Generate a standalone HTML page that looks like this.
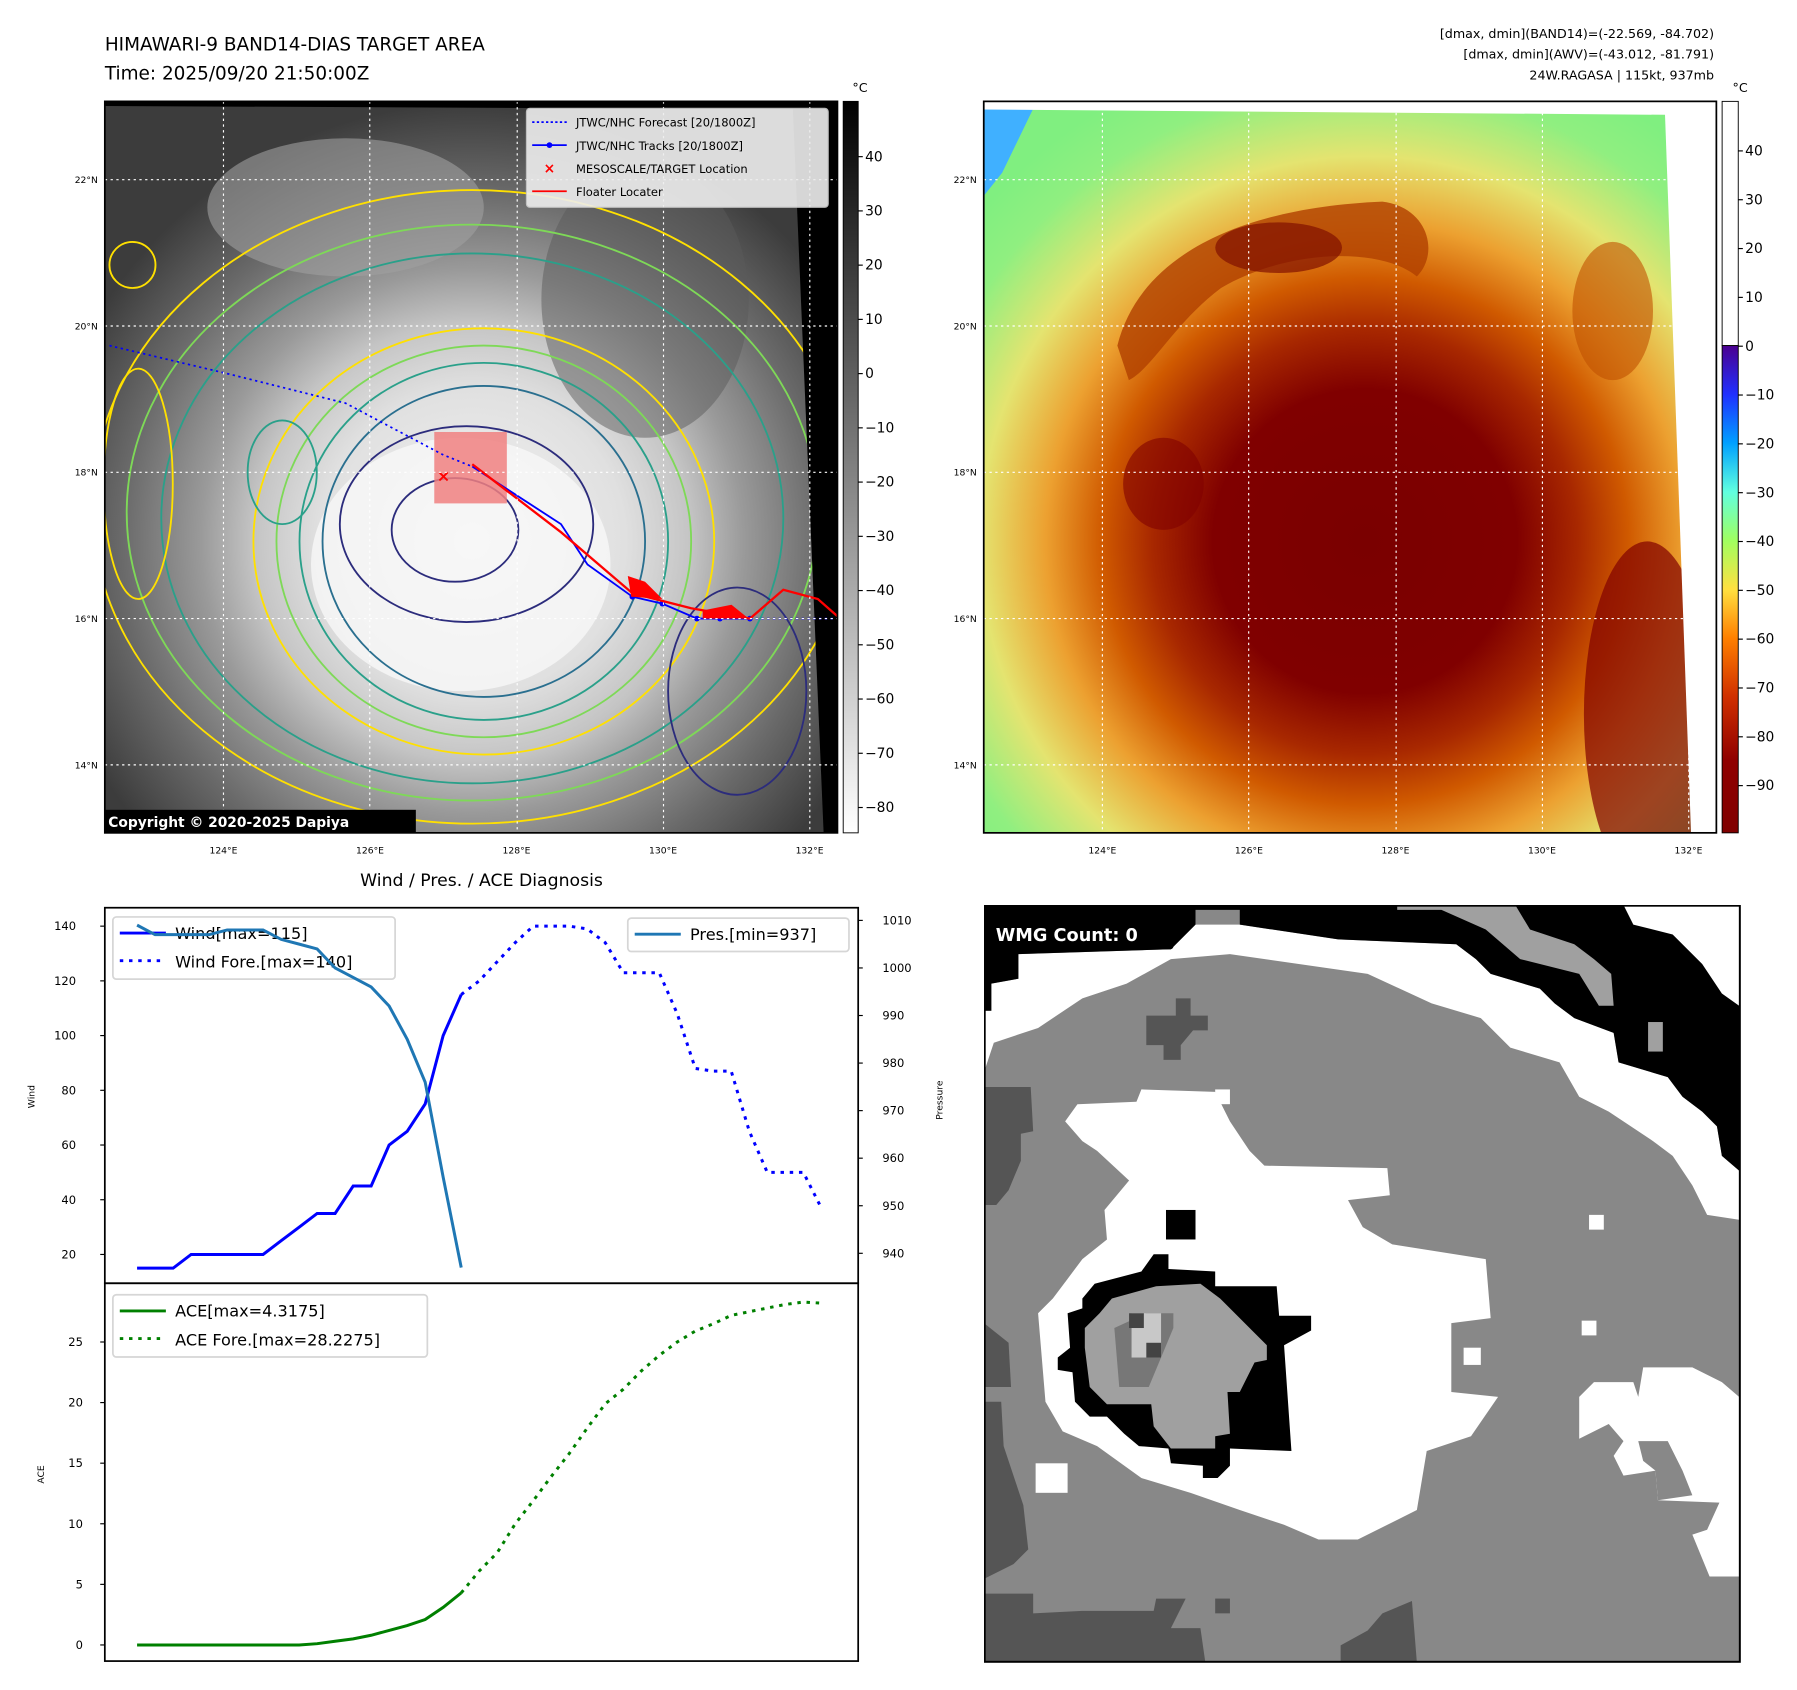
<!DOCTYPE html>
<html><head><meta charset="utf-8"><style>
html,body{margin:0;padding:0;background:#fff;}
svg{display:block;font-family:"DejaVu Sans","Liberation Sans",sans-serif;}
</style></head><body>
<svg id="root" width="1797" height="1690" viewBox="0 0 1560 1467.1" xmlns="http://www.w3.org/2000/svg">
<defs>
<radialGradient id="g1" cx="410" cy="470" r="380" gradientUnits="userSpaceOnUse">
<stop offset="0" stop-color="#f4f4f4"/><stop offset="0.35" stop-color="#e0e0e0"/><stop offset="0.5" stop-color="#c4c4c4"/><stop offset="0.62" stop-color="#9a9a9a"/><stop offset="0.8" stop-color="#6a6a6a"/><stop offset="1" stop-color="#3c3c3c"/>
</radialGradient>
<radialGradient id="g2" cx="1185" cy="470" r="440" gradientUnits="userSpaceOnUse">
<stop offset="0" stop-color="#7a0000"/><stop offset="0.3" stop-color="#800000"/><stop offset="0.42" stop-color="#a82800"/><stop offset="0.52" stop-color="#d05a00"/><stop offset="0.63" stop-color="#eca030"/><stop offset="0.76" stop-color="#e4e470"/><stop offset="0.9" stop-color="#90ef80"/><stop offset="1" stop-color="#80ef80"/>
</radialGradient>
<linearGradient id="cb1" x1="0" y1="0" x2="0" y2="1"><stop offset="0" stop-color="#000"/><stop offset="1" stop-color="#fff"/></linearGradient>
<linearGradient id="cb2" x1="0" y1="0" x2="0" y2="1">
<stop offset="0" stop-color="#4b0090"/><stop offset="0.1" stop-color="#2030ff"/><stop offset="0.2" stop-color="#00a0ff"/><stop offset="0.3" stop-color="#60ffe0"/><stop offset="0.4" stop-color="#a0ff60"/><stop offset="0.5" stop-color="#ffe040"/><stop offset="0.6" stop-color="#ff8000"/><stop offset="0.72" stop-color="#d03000"/><stop offset="0.85" stop-color="#900000"/><stop offset="1" stop-color="#800000"/></linearGradient>
<clipPath id="c1"><rect x="91" y="88" width="636" height="635"/></clipPath>
<clipPath id="c2"><rect x="854" y="88" width="636" height="635"/></clipPath>
</defs>

<!-- Titles -->
<text x="91" y="44" font-size="16">HIMAWARI-9 BAND14-DIAS TARGET AREA</text>
<text x="91" y="69" font-size="16">Time: 2025/09/20 21:50:00Z</text>
<text x="1488" y="33" font-size="11" text-anchor="end">[dmax, dmin](BAND14)=(-22.569, -84.702)</text>
<text x="1488" y="51" font-size="11" text-anchor="end">[dmax, dmin](AWV)=(-43.012, -81.791)</text>
<text x="1488" y="69" font-size="11" text-anchor="end">24W.RAGASA | 115kt, 937mb</text>

<!-- Map 1 -->
<g clip-path="url(#c1)">
<rect x="91" y="88" width="636" height="635" fill="url(#g1)"/>
<ellipse cx="300" cy="180" rx="120" ry="60" fill="#a0a0a0" opacity="0.6"/>
<ellipse cx="560" cy="260" rx="90" ry="120" fill="#5a5a5a" opacity="0.5"/>
<ellipse cx="400" cy="490" rx="130" ry="110" fill="#f8f8f8" opacity="0.8"/>
<g fill="none" stroke-width="1.6">
<ellipse cx="410" cy="440" rx="330" ry="275" stroke="#ffe000"/>
<ellipse cx="410" cy="445" rx="300" ry="250" stroke="#7ed957"/>
<ellipse cx="410" cy="450" rx="270" ry="230" stroke="#2aa08a"/>
<ellipse cx="420" cy="470" rx="200" ry="185" stroke="#ffe000"/>
<ellipse cx="420" cy="470" rx="180" ry="170" stroke="#7ed957"/>
<ellipse cx="420" cy="470" rx="160" ry="155" stroke="#2aa08a"/>
<ellipse cx="420" cy="470" rx="140" ry="135" stroke="#2a6f8f"/>
<ellipse cx="405" cy="455" rx="110" ry="85" stroke="#2c2c7c"/>
<ellipse cx="395" cy="460" rx="55" ry="45" stroke="#2c2c7c"/>
<ellipse cx="245" cy="410" rx="30" ry="45" stroke="#2aa08a"/>
<ellipse cx="640" cy="600" rx="60" ry="90" stroke="#2c2c7c"/>
<ellipse cx="120" cy="420" rx="30" ry="100" stroke="#ffe000"/>
<ellipse cx="115" cy="230" rx="20" ry="20" stroke="#ffe000"/>
</g>
<polygon points="688,88 727,88 727,723 715,723" fill="#000"/>
<polygon points="91,88 727,88 727,95 91,92" fill="#000"/>
<rect x="377" y="375" width="63" height="62" fill="#f08080" opacity="0.85"/>
<polyline points="95,300 200,325 300,350 385,395 410,405" fill="none" stroke="#0000ff" stroke-width="1.5" stroke-dasharray="2,3"/>
<polyline points="651,537 724,537" fill="none" stroke="#0000ff" stroke-width="1.5" stroke-dasharray="2,3"/>
<polyline points="410,405 487,455 510,490 549,518 575,524 605,537 625,537 651,537" fill="none" stroke="#0000ff" stroke-width="1.6"/>
<g fill="#0000ff"><circle cx="549" cy="518" r="2.5"/><circle cx="575" cy="524" r="2.5"/><circle cx="605" cy="537" r="2.5"/><circle cx="625" cy="537" r="2.5"/><circle cx="651" cy="537" r="2.5"/></g>
<polyline points="410,403 487,462 549,515 600,528 651,537 680,512 710,520 727,535" fill="none" stroke="#ff0000" stroke-width="2"/>
<polygon points="545,500 560,505 575,520 548,518" fill="#ff0000"/>
<polygon points="610,530 635,525 650,537 610,537" fill="#ff0000"/>
<text x="385" y="418" font-size="14" fill="#ff0000" text-anchor="middle" font-weight="bold">×</text>
<g stroke="#fff" stroke-width="1" stroke-dasharray="2,3">
<line x1="91" x2="727" y1="156" y2="156"/><line x1="91" x2="727" y1="283" y2="283"/><line x1="91" x2="727" y1="410" y2="410"/><line x1="91" x2="727" y1="537" y2="537"/><line x1="91" x2="727" y1="664" y2="664"/>
<line y1="88" y2="723" x1="194" x2="194"/><line y1="88" y2="723" x1="321" x2="321"/><line y1="88" y2="723" x1="449" x2="449"/><line y1="88" y2="723" x1="576" x2="576"/><line y1="88" y2="723" x1="703" x2="703"/>
</g>
<rect x="91" y="703" width="270" height="20" fill="#000"/>
<text x="94" y="718" font-size="12" fill="#fff" font-weight="bold">Copyright © 2020-2025 Dapiya</text>
</g>
<rect x="91" y="88" width="636" height="635" fill="none" stroke="#000" stroke-width="1.5"/>
<g>
<rect x="457" y="94" width="262" height="86" rx="3" fill="#eee" opacity="0.9" stroke="#ccc"/>
<line x1="462" x2="492" y1="106" y2="106" stroke="#00f" stroke-width="1.5" stroke-dasharray="2,2"/>
<text x="500" y="110" font-size="10">JTWC/NHC Forecast [20/1800Z]</text>
<line x1="462" x2="492" y1="126" y2="126" stroke="#00f" stroke-width="1.5"/><circle cx="477" cy="126" r="2.5" fill="#00f"/>
<text x="500" y="130" font-size="10">JTWC/NHC Tracks [20/1800Z]</text>
<text x="477" y="150" font-size="12" fill="#f00" text-anchor="middle" font-weight="bold">×</text>
<text x="500" y="150" font-size="10">MESOSCALE/TARGET Location</text>
<line x1="462" x2="492" y1="166" y2="166" stroke="#f00" stroke-width="1.5"/>
<text x="500" y="170" font-size="10">Floater Locater</text>
</g>

<!-- Map 2 -->
<g clip-path="url(#c2)">
<rect x="854" y="88" width="636" height="635" fill="url(#g2)"/>
<polygon points="854,88 900,88 870,150 854,170" fill="#40b0ff"/>
<path d="M970,300 C990,220 1080,180 1200,175 C1240,180 1250,220 1230,240 C1200,215 1120,215 1060,250 C1020,280 1000,320 980,330 Z" fill="#b04000" opacity="0.8"/>
<ellipse cx="1110" cy="215" rx="55" ry="22" fill="#801000" opacity="0.7"/>
<ellipse cx="1400" cy="270" rx="35" ry="60" fill="#c05000" opacity="0.6"/>
<ellipse cx="1430" cy="620" rx="55" ry="150" fill="#800000" opacity="0.7"/>
<ellipse cx="1010" cy="420" rx="35" ry="40" fill="#800000" opacity="0.6"/>
<polygon points="1445,88 1490,88 1490,723 1468,723" fill="#fff"/>
<polygon points="854,88 1490,88 1490,100 854,95" fill="#fff"/>
<g stroke="#fff" stroke-width="1" stroke-dasharray="2,3">
<line x1="854" x2="1490" y1="156" y2="156"/><line x1="854" x2="1490" y1="283" y2="283"/><line x1="854" x2="1490" y1="410" y2="410"/><line x1="854" x2="1490" y1="537" y2="537"/><line x1="854" x2="1490" y1="664" y2="664"/>
<line y1="88" y2="723" x1="957" x2="957"/><line y1="88" y2="723" x1="1084" x2="1084"/><line y1="88" y2="723" x1="1212" x2="1212"/><line y1="88" y2="723" x1="1339" x2="1339"/><line y1="88" y2="723" x1="1466" x2="1466"/>
</g>
</g>
<rect x="854" y="88" width="636" height="635" fill="none" stroke="#000" stroke-width="1.5"/>

<!-- Colorbars -->
<rect x="732" y="88" width="13" height="635" fill="url(#cb1)" stroke="#000" stroke-width="0.8"/>
<rect x="1495" y="88" width="14" height="212" fill="#fff" stroke="#000" stroke-width="0.8"/>
<rect x="1495" y="300" width="14" height="423" fill="url(#cb2)" stroke="#000" stroke-width="0.8"/>
<text x="740" y="80" font-size="11">°C</text>
<text x="1504" y="80" font-size="11">°C</text>
<g id="cbticks" font-size="12"></g>
<g id="latlon" font-size="8"></g>

<!-- Chart -->
<text x="418" y="769" font-size="15" text-anchor="middle">Wind / Pres. / ACE Diagnosis</text>
<rect x="91" y="788" width="654" height="326" fill="none" stroke="#000" stroke-width="1.5"/>
<rect x="91" y="1114" width="654" height="328" fill="none" stroke="#000" stroke-width="1.5"/>
<text transform="translate(30,952) rotate(-90)" font-size="8" text-anchor="middle">Wind</text>
<text transform="translate(818,955) rotate(-90)" font-size="8" text-anchor="middle">Pressure</text>
<text transform="translate(38,1280) rotate(-90)" font-size="8" text-anchor="middle">ACE</text>
<g>
<rect x="98" y="796" width="245" height="54" rx="3" fill="#fff" opacity="0.8" stroke="#ccc" stroke-width="1.5"/>
<line x1="104" x2="144" y1="810" y2="810" stroke="#00f" stroke-width="2.5"/>
<text x="152" y="815" font-size="14">Wind[max=115]</text>
<line x1="104" x2="144" y1="834" y2="834" stroke="#00f" stroke-width="2.5" stroke-dasharray="3,5"/>
<text x="152" y="840" font-size="14">Wind Fore.[max=140]</text>
</g>
<g id="chart"></g>
<g>
<rect x="545" y="797" width="192" height="29" rx="3" fill="#fff" opacity="0.8" stroke="#ccc" stroke-width="1.5"/>
<line x1="551" x2="591" y1="811" y2="811" stroke="#1f77b4" stroke-width="2.5"/>
<text x="599" y="816" font-size="14">Pres.[min=937]</text>
</g>
<g>
<rect x="98" y="1124" width="273" height="54" rx="3" fill="#fff" opacity="0.8" stroke="#ccc" stroke-width="1.5"/>
<line x1="104" x2="144" y1="1138" y2="1138" stroke="#008000" stroke-width="2.5"/>
<text x="152" y="1143" font-size="14">ACE[max=4.3175]</text>
<line x1="104" x2="144" y1="1162" y2="1162" stroke="#008000" stroke-width="2.5" stroke-dasharray="3,5"/>
<text x="152" y="1168" font-size="14">ACE Fore.[max=28.2275]</text>
</g>

<!-- WMG panel -->
<svg x="854.2" y="785.6" width="659.8" height="659.8" viewBox="0 0 1545 1545">
<rect x="0" y="0" width="1538" height="1540" fill="#888"/>
<polygon fill="#fff" points="0,215 15,215 15,160 70,150 70,100 380,90 430,40 520,40 720,70 960,80 1000,110 1030,140 1130,170 1160,200 1200,230 1280,260 1290,320 1390,350 1420,390 1460,420 1490,450 1500,510 1535,540 1535,640 1470,630 1440,570 1400,510 1360,480 1270,420 1210,390 1170,320 1070,290 1010,230 910,200 780,140 500,100 380,110 290,160 200,190 110,250 20,280 0,340"/>
<polygon fill="#000" points="430,0 1535,0 1535,540 1500,510 1490,450 1460,420 1420,390 1390,350 1290,320 1280,260 1200,230 1160,200 1130,170 1030,140 1000,110 960,80 720,70 520,40 520,10 430,10"/>
<polygon fill="#000" points="0,0 430,0 430,40 380,90 70,100 70,150 15,160 15,215 0,215"/>
<polygon fill="#fff" points="1300,0 1535,0 1535,205 1500,180 1460,120 1400,60 1320,40"/>
<polygon fill="#a0a0a0" points="840,0 1080,0 1110,50 1200,80 1240,110 1275,140 1280,205 1250,205 1210,140 1090,110 1020,50 930,10 840,10"/>
<rect x="1350" y="238" width="30" height="60" fill="#a0a0a0"/>
<polygon fill="#555" points="330,225 390,225 390,190 420,190 420,225 455,225 455,255 425,255 400,285 400,315 365,315 365,285 330,285"/>
<polygon fill="#fff" points="165,440 190,405 310,400 320,375 470,380 500,440 540,500 570,530 820,535 825,590 740,600 770,655 830,690 1020,720 1030,840 950,850 950,990 1045,1000 990,1080 900,1110 880,1230 760,1290 680,1290 610,1260 520,1230 420,1195 320,1165 230,1100 160,1070 125,1010 110,830 140,800 170,760 200,720 250,680 245,620 270,590 295,560 230,500 200,480"/>
<polygon fill="#fff" points="1210,1000 1240,970 1320,970 1330,1000 1340,940 1440,940 1500,970 1535,1000 1535,1365 1475,1365 1440,1280 1470,1270 1495,1215 1370,1210 1365,1150 1300,1160 1280,1120 1300,1090 1270,1055 1210,1085"/>
<polygon fill="#888" points="1330,1090 1390,1090 1420,1150 1440,1200 1370,1210 1365,1150 1340,1130"/>
<polygon fill="#000" points="320,745 345,710 375,710 375,740 470,745 470,775 595,775 600,835 665,835 665,865 610,895 625,1110 500,1105 500,1140 475,1165 445,1165 445,1140 380,1135 375,1105 315,1100 285,1075 250,1040 215,1040 185,1010 180,950 150,945 150,920 175,900 170,830 200,820 200,800 225,770"/>
<polygon fill="#a0a0a0" points="205,860 235,830 260,800 350,775 440,770 480,800 510,830 545,865 575,895 575,925 550,930 520,990 495,990 500,1075 470,1080 470,1105 380,1105 345,1060 340,1015 250,1015 215,980 205,900"/>
<polygon fill="#777" points="265,860 330,830 385,830 385,860 335,980 275,980"/>
<rect x="300" y="830" width="60" height="90" fill="#c8c8c8"/>
<rect x="295" y="830" width="30" height="30" fill="#444"/><rect x="330" y="890" width="30" height="30" fill="#444"/>
<rect x="370" y="620" width="60" height="60" fill="#000"/>
<g fill="#fff"><rect x="470" y="375" width="30" height="30"/><rect x="1230" y="630" width="30" height="30"/><rect x="1215" y="845" width="30" height="30"/><rect x="975" y="900" width="35" height="35"/><rect x="105" y="1135" width="65" height="60"/></g>
<g fill="#555">
<polygon points="0,370 95,370 100,460 75,465 75,520 50,580 25,610 0,610"/>
<polygon points="0,850 50,890 55,980 0,980"/>
<polygon points="0,1010 35,1010 40,1100 80,1220 90,1310 60,1340 0,1370"/>
<polygon points="0,1400 100,1400 100,1440 200,1435 345,1435 350,1410 410,1410 380,1470 440,1470 450,1540 0,1540"/>
<polygon points="725,1505 780,1475 810,1440 870,1415 880,1540 725,1540"/>
<rect x="470" y="1410" width="30" height="30"/>
</g>
<rect x="1.5" y="1.5" width="1535" height="1537" fill="none" stroke="#000" stroke-width="4"/>
<rect x="5" y="30" width="380" height="60" rx="6" fill="#000"/>
<text x="24" y="73" font-size="36" font-weight="bold" fill="#fff">WMG Count: 0</text>
</svg>
</svg>

<script>
// ---- Chart data ----
const windObs = [15,15,15,20,20,20,20,20,25,30,35,35,45,45,60,65,75,100,115];
const presObs = [1009,1007,1007,1007,1007,1008,1008,1008,1006,1005,1004,1000,998,996,992,985,976,956,937];
const windFore = [115,120,127,134,140,140,140,139,134,123,123,123,108,88,87,87,65,50,50,50,37];
const aceObs = [0,0,0,0,0,0,0,0,0,0,0.1,0.3,0.5,0.8,1.2,1.6,2.1,3.1,4.3];
const aceFore = [4.3,6.1,7.6,10,11.9,13.9,15.8,17.9,19.9,21.1,22.6,23.9,25,25.9,26.5,27.2,27.5,27.8,28.1,28.3,28.2];
const windTicks = [20,40,60,80,100,120,140];
const presTicks = [940,950,960,970,980,990,1000,1010];
const aceTicks = [0,5,10,15,20,25];
const cb1Ticks = [40,30,20,10,0,-10,-20,-30,-40,-50,-60,-70,-80];
const cb2Ticks = [40,30,20,10,0,-10,-20,-30,-40,-50,-60,-70,-80,-90];
const latTicks = [22,20,18,16,14];
const lonTicks = [124,126,128,130,132];

const NS = 'http://www.w3.org/2000/svg';
const xi = i => 119 + i * (713 - 119) / 38;
const yWind = v => 1089 - (v - 20) * (1089 - 804) / 120;
const yPres = v => 1088 - (v - 940) * (1088 - 799) / 70;
const yAce = v => 1428 - v * (1428 - 1165) / 25;
const chart = document.getElementById('chart');

function mk(tag, attrs, parent) {
  const e = document.createElementNS(NS, tag);
  for (const k in attrs) e.setAttribute(k, attrs[k]);
  parent.appendChild(e);
  return e;
}
function line(vals, off, yf, color, dash, name) {
  const pts = vals.map((v, i) => xi(i + off).toFixed(1) + ',' + yf(v).toFixed(1)).join(' ');
  const p = mk('polyline', {points: pts, fill: 'none', stroke: color, 'stroke-width': 2.6}, chart);
  if (dash) p.setAttribute('stroke-dasharray', '3,5');
  
  
}
line(windObs, 0, yWind, '#0000ff', false, 'wind-line');
line(windFore, 18, yWind, '#0000ff', true, 'wind-forecast-line');
line(presObs, 0, yPres, '#1f77b4', false, 'pressure-line');
line(aceObs, 0, yAce, '#008000', false, 'ace-line');
line(aceFore, 18, yAce, '#008000', true, 'ace-forecast-line');

function tick(x1, x2, y, lx, anchor, label, name) {
  mk('line', {x1: x1, x2: x2, y1: y, y2: y, stroke: '#000', 'stroke-width': 1}, chart);
  const t = mk('text', {x: lx, y: y + 3.5, 'font-size': 10, 'text-anchor': anchor}, chart);
  t.textContent = label;
  
  
}
windTicks.forEach(v => tick(87, 91, yWind(v), 66, 'end', v, 'wind-tick-label'));
presTicks.forEach(v => tick(745, 749, yPres(v), 766, 'start', v, 'pressure-tick-label'));
aceTicks.forEach(v => tick(87, 91, yAce(v), 72, 'end', v, 'ace-tick-label'));

const cbg = document.getElementById('cbticks');
cb1Ticks.forEach(v => {
  const y = 136 + (40 - v) * (701 - 136) / 120;
  mk('line', {x1: 745, x2: 749, y1: y, y2: y, stroke: '#000'}, cbg);
  const t = mk('text', {x: 751, y: y + 4}, cbg);
  t.textContent = v < 0 ? '\u2212' + (-v) : v;
  
  
});
cb2Ticks.forEach(v => {
  const y = 131 + (40 - v) * (682 - 131) / 130;
  mk('line', {x1: 1509, x2: 1513, y1: y, y2: y, stroke: '#000'}, cbg);
  const t = mk('text', {x: 1515, y: y + 4}, cbg);
  t.textContent = v < 0 ? '\u2212' + (-v) : v;
  
  
});
const ll = document.getElementById('latlon');
[[91, 0], [854, 763]].forEach(([x0, dx]) => {
  latTicks.forEach(lat => {
    const y = 537 - (lat - 16) * 63.5;
    const t = mk('text', {x: x0 - 6, y: y + 3, 'text-anchor': 'end'}, ll);
    t.textContent = lat + '°N';
    
    
  });
  lonTicks.forEach(lon => {
    const x = 194 + (lon - 124) * 63.6 + dx;
    const t = mk('text', {x: x, y: 741, 'text-anchor': 'middle'}, ll);
    t.textContent = lon + '°E';
    
    
  });
});
</script>
</body></html>
